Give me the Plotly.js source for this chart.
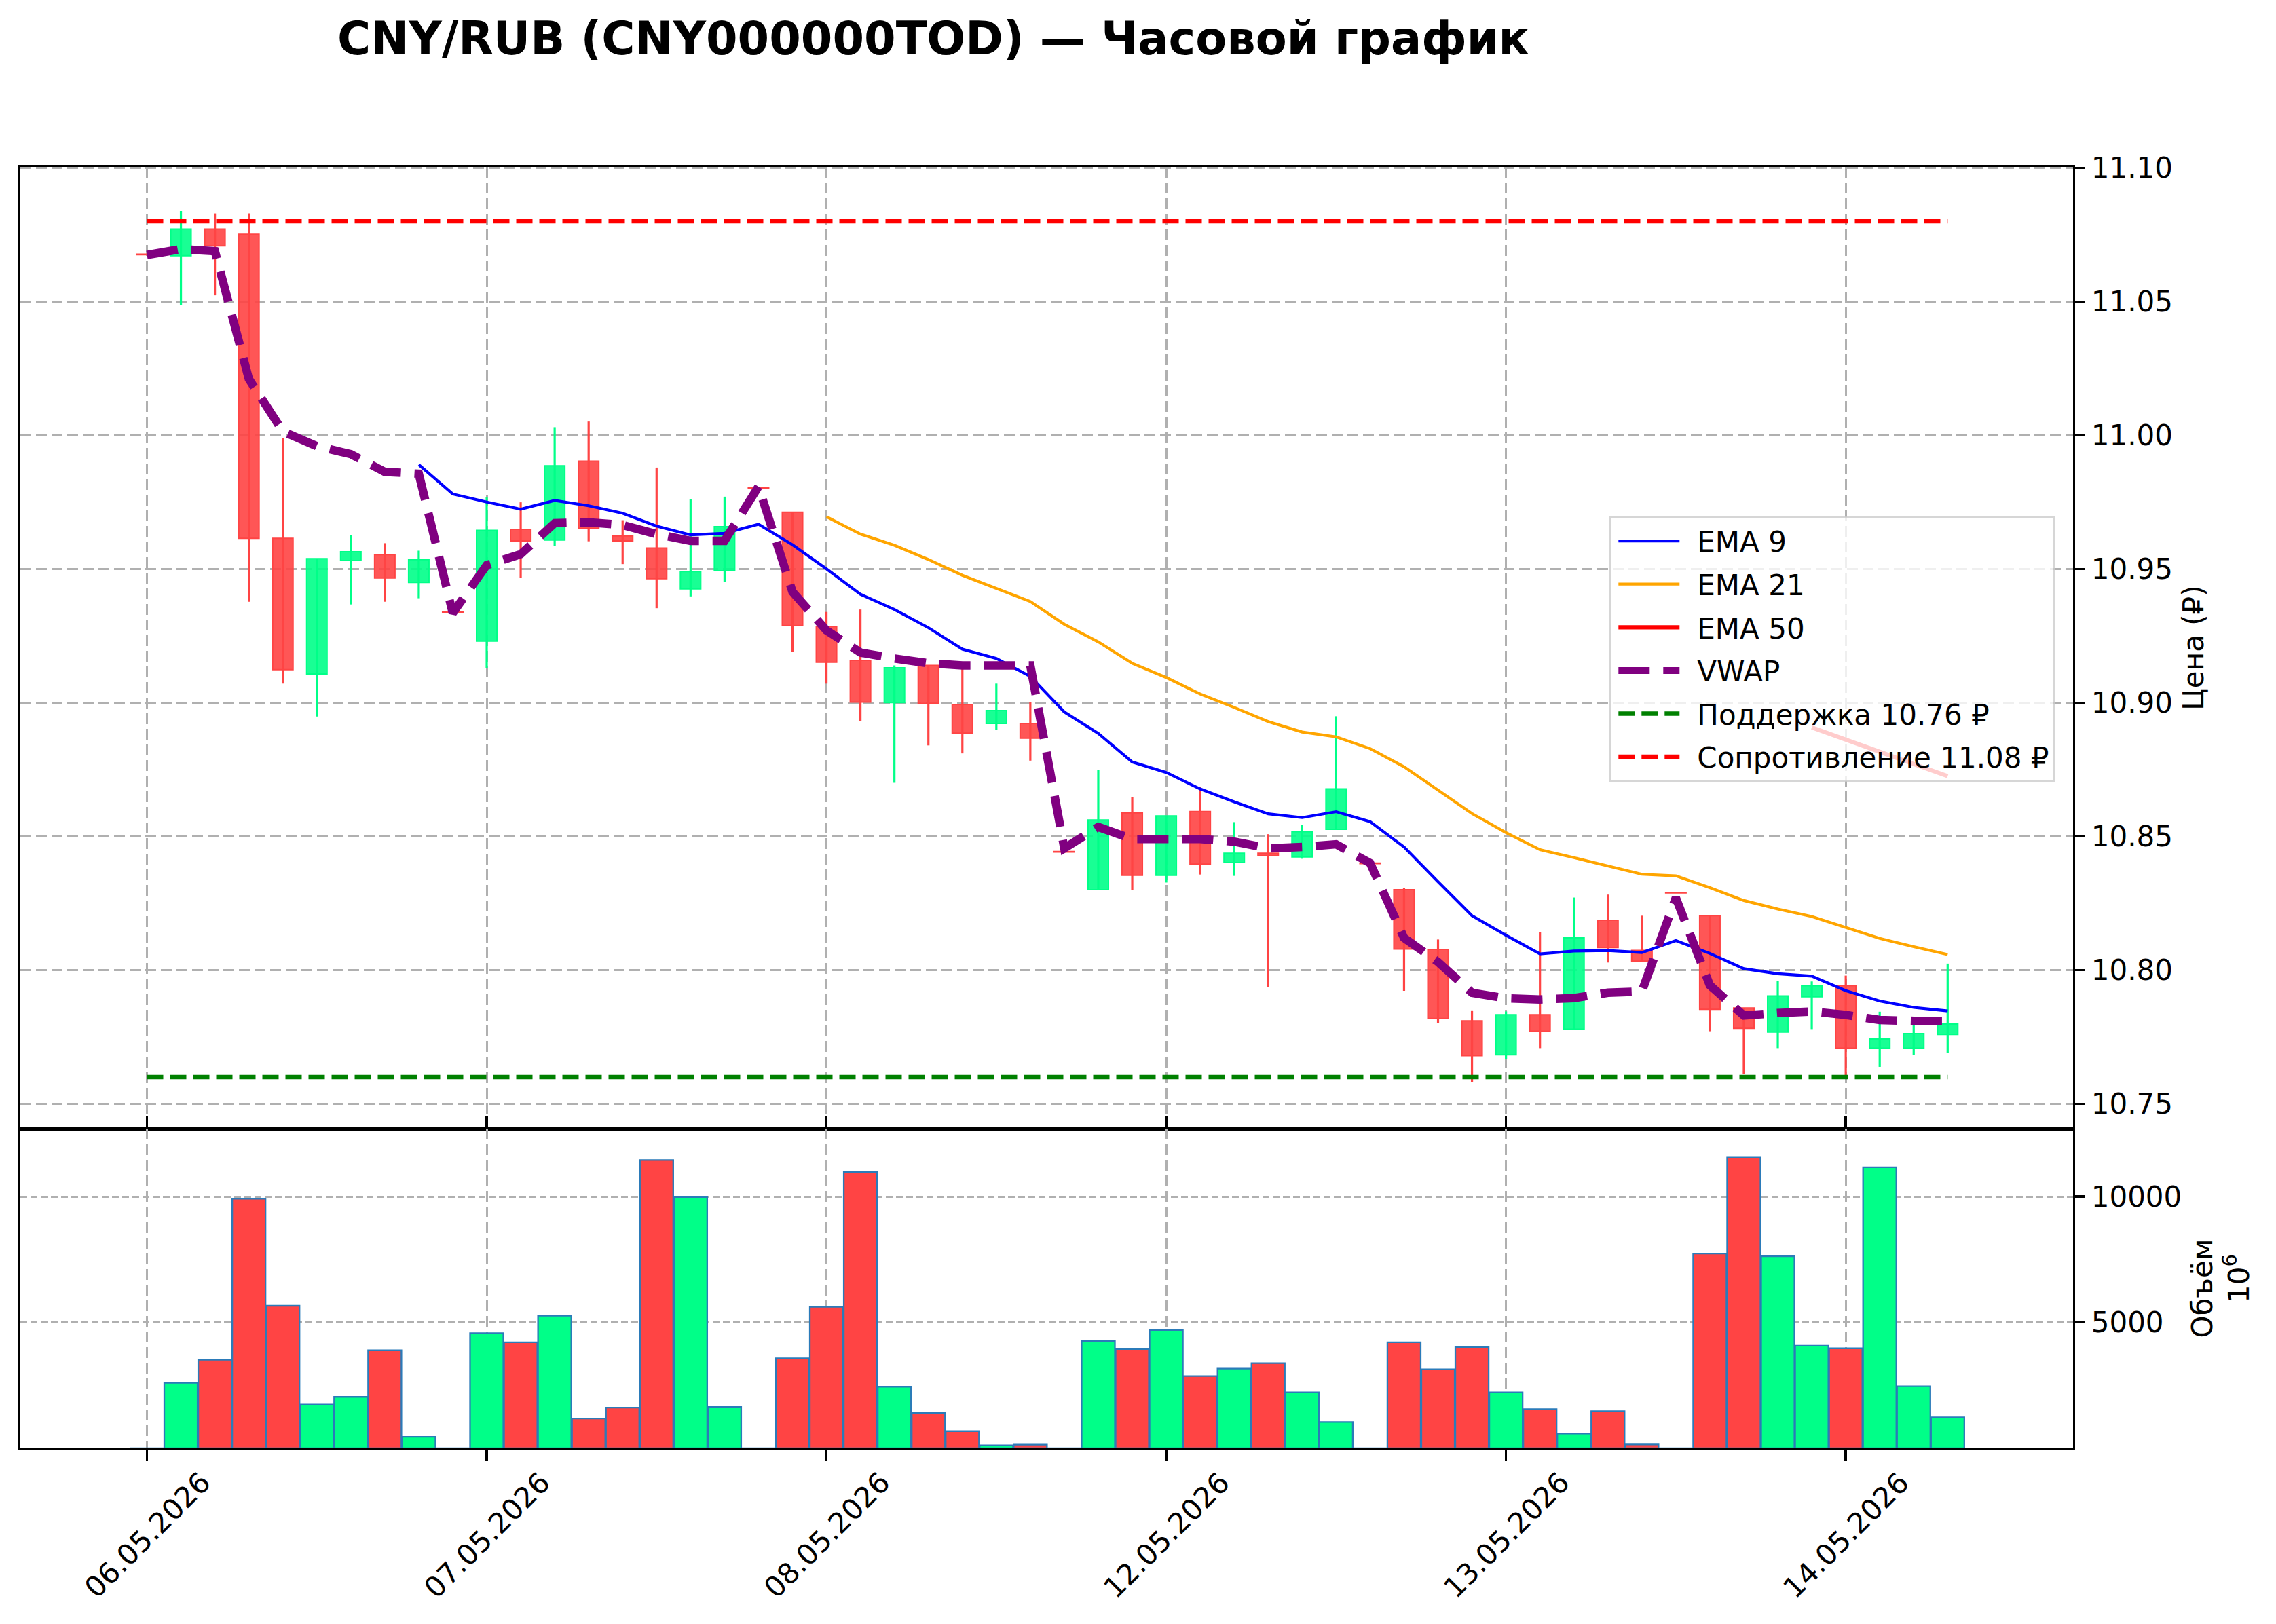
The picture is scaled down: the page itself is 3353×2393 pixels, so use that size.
<!DOCTYPE html>
<html><head><meta charset="utf-8">
<script src="https://cdn.plot.ly/plotly-3.0.1.min.js"></script>
<style>html,body{margin:0;padding:0;background:#fff;} #chart{width:3353px;height:2393px;}</style>
</head><body><div id="chart"></div>
<script>
// ---------- DATA ----------
const candleIdx = [0,1,2,3,4,5,6,7,8,9,10,11,12,13,14,15,16,17,18,19,20,21,22,23,24,25,26,27,28,29,30,31,32,33,34,35,36,37,38,39,40,41,42,43,44,45,46,47,48,49,50,51,52,53];
const openP  = [11.0675,11.0671,11.0771,11.0751,10.9614,10.9107,10.9531,10.9553,10.9449,10.9336,10.9230,10.9648,10.9608,10.9903,10.9623,10.9578,10.9425,10.9493,10.9801,10.9712,10.9284,10.9158,10.9000,10.9139,10.8993,10.8922,10.8922,10.8441,10.8300,10.8588,10.8354,10.8593,10.8402,10.8437,10.8423,10.8526,10.8398,10.8300,10.8077,10.7810,10.7683,10.7833,10.7779,10.8186,10.8073,10.8288,10.8203,10.7858,10.7768,10.7900,10.7941,10.7708,10.7708,10.7759];
const highP  = [11.0675,11.0838,11.0829,11.0829,10.9989,10.9538,10.9626,10.9596,10.9568,10.9336,10.9767,10.9749,11.0030,11.0051,10.9682,10.9879,10.9760,10.9770,10.9801,10.9712,10.9339,10.9348,10.9139,10.9139,10.9135,10.9071,10.9002,10.8441,10.8748,10.8647,10.8576,10.8686,10.8553,10.8508,10.8544,10.8949,10.8398,10.8307,10.8114,10.7849,10.7845,10.8141,10.8271,10.8282,10.8203,10.8288,10.8203,10.7858,10.7960,10.7957,10.7979,10.7844,10.7824,10.8024];
const lowP   = [11.0675,11.0486,11.0523,10.9377,10.9071,10.8948,10.9367,10.9377,10.9390,10.9336,10.9130,10.9466,10.9586,10.9603,10.9518,10.9353,10.9397,10.9452,10.9801,10.9189,10.9071,10.8931,10.8700,10.8840,10.8810,10.8899,10.8783,10.8441,10.8300,10.8300,10.8327,10.8357,10.8352,10.7936,10.8416,10.8526,10.8398,10.7922,10.7801,10.7581,10.7666,10.7708,10.7779,10.8028,10.8033,10.8288,10.7771,10.7610,10.7708,10.7779,10.7598,10.7638,10.7683,10.7691];
const closeP = [11.0675,11.0771,11.0708,10.9614,10.9123,10.9538,10.9564,10.9466,10.9534,10.9336,10.9644,10.9605,10.9886,10.9651,10.9605,10.9463,10.9490,10.9658,10.9801,10.9288,10.9151,10.9002,10.9130,10.8997,10.8886,10.8970,10.8867,10.8441,10.8561,10.8354,10.8576,10.8396,10.8437,10.8428,10.8517,10.8677,10.8398,10.8078,10.7819,10.7680,10.7833,10.7771,10.8120,10.8084,10.8033,10.8288,10.7853,10.7782,10.7903,10.7941,10.7708,10.7742,10.7762,10.7798];
const volume = [0,2599,3513,9911,5663,1738,2043,3889,457,0,4570,4211,5269,1183,1613,11452,9973,1640,0,3575,5618,10968,2446,1398,681,116,143,0,4265,3943,4695,2867,3163,3378,2222,1039,0,4211,3136,4023,2222,1550,582,1470,152,0,7733,11550,7625,4077,3970,11165,2464,1228];
const ema9  = [null,null,null,null,null,null,null,null,10.9890,10.9780,10.9750,10.9723,10.9756,10.9736,10.9708,10.9660,10.9627,10.9633,10.9667,10.9590,10.9500,10.9405,10.9348,10.9280,10.9200,10.9165,10.9098,10.8965,10.8885,10.8778,10.8739,10.8677,10.8629,10.8584,10.8570,10.8592,10.8555,10.8460,10.8330,10.8203,10.8130,10.8060,10.8071,10.8073,10.8065,10.8110,10.8062,10.8005,10.7986,10.7977,10.7923,10.7884,10.7860,10.7847];
const ema21 = [null,null,null,null,null,null,null,null,null,null,null,null,null,null,null,null,null,null,null,null,10.9695,10.9630,10.9588,10.9535,10.9476,10.9428,10.9378,10.9293,10.9227,10.9147,10.9094,10.9032,10.8982,10.8929,10.8890,10.8872,10.8828,10.8760,10.8672,10.8585,10.8514,10.8450,10.8420,10.8390,10.8358,10.8352,10.8308,10.8260,10.8228,10.8200,10.8158,10.8118,10.8087,10.8058];
const ema50 = [null,null,null,null,null,null,null,null,null,null,null,null,null,null,null,null,null,null,null,null,null,null,null,null,null,null,null,null,null,null,null,null,null,null,null,null,null,null,null,null,null,null,null,null,null,null,null,null,null,10.8907,10.8862,10.8816,10.8771,10.8725];
const vwap  = [11.0674,11.0696,11.0688,11.0210,11.0014,10.9959,10.9929,10.9863,10.9856,10.9335,10.9514,10.9555,10.9671,10.9674,10.9664,10.9630,10.9605,10.9605,10.9808,10.9414,10.9270,10.9187,10.9165,10.9147,10.9139,10.9139,10.9139,10.8455,10.8535,10.8490,10.8490,10.8490,10.8480,10.8455,10.8460,10.8470,10.8400,10.8120,10.8030,10.7915,10.7894,10.7890,10.7895,10.7915,10.7920,10.8270,10.7943,10.7830,10.7839,10.7845,10.7832,10.7813,10.7810,10.7810];
const supportLevel = 10.76;
const resistanceLevel = 11.08;
const dateTickPos = [0,10,20,30,40,50];
const dateTickLabels = ['06.05.2026','07.05.2026','08.05.2026','12.05.2026','13.05.2026','14.05.2026'];
const priceTicks = [10.75,10.80,10.85,10.90,10.95,11.00,11.05,11.10];
const volumeTicks = [5000,10000];

// ---------- STYLE ----------
const RED = '#ff4444', GREEN = '#00ff88';
const RED_F = 'rgba(255,68,68,0.9)', GREEN_F = 'rgba(0,255,136,0.9)';
const FONT = 'DejaVu Sans, Verdana, sans-serif';
const GAP = '\u2002'; // spacing between legend sample and label
const isUp = closeP.map((c,i)=> c > openP[i]);

function wicks(up){
  const x=[], y=[];
  candleIdx.forEach(i=>{ if(isUp[i]===up && highP[i]>lowP[i]){ x.push(i,i,null); y.push(lowP[i],highP[i],null);} });
  return {x,y};
}
const wUp = wicks(true), wDn = wicks(false);

const traces = [];
traces.push({type:'scatter', mode:'lines', x:wDn.x, y:wDn.y, line:{color:RED, width:3.2}, showlegend:false, hoverinfo:'skip', xaxis:'x', yaxis:'y'});
traces.push({type:'scatter', mode:'lines', x:wUp.x, y:wUp.y, line:{color:GREEN, width:3.2}, showlegend:false, hoverinfo:'skip', xaxis:'x', yaxis:'y'});
traces.push({type:'bar', x:candleIdx,
  base: candleIdx.map(i=>Math.min(openP[i],closeP[i])),
  y: candleIdx.map(i=>Math.max(Math.abs(closeP[i]-openP[i]),0.0002)),
  width:0.6, marker:{color:candleIdx.map(i=>isUp[i]?GREEN_F:RED_F), line:{color:candleIdx.map(i=>isUp[i]?GREEN:RED), width:2}},
  showlegend:false, hoverinfo:'skip', xaxis:'x', yaxis:'y'});
traces.push({type:'bar', x:candleIdx, y:volume, width:0.98,
  marker:{color:candleIdx.map(i=>isUp[i]?GREEN:RED), line:{color:'#2b7bb9', width:2.3}},
  showlegend:false, hoverinfo:'skip', xaxis:'x', yaxis:'y2'});
traces.push({type:'scatter', mode:'lines', name:GAP+'EMA 9', x:candleIdx, y:ema9, line:{color:'#0000ff', width:4.2}, legendgroup:'g1', xaxis:'x', yaxis:'y'});
traces.push({type:'scatter', mode:'lines', name:GAP+'EMA 21', x:candleIdx, y:ema21, line:{color:'#ffa500', width:4.2}, legendgroup:'g2', xaxis:'x', yaxis:'y'});
traces.push({type:'scatter', mode:'lines', name:GAP+'EMA 50', x:candleIdx, y:ema50, line:{color:'#ff0000', width:6.2}, legendgroup:'g3', xaxis:'x', yaxis:'y'});
traces.push({type:'scatter', mode:'lines', name:GAP+'VWAP', x:candleIdx, y:vwap, line:{color:'#800080', width:12.5, dash:'46px,20px'}, legendgroup:'g4', xaxis:'x', yaxis:'y'});
const lineX = [candleIdx[0], candleIdx[candleIdx.length-1]];
traces.push({type:'scatter', mode:'lines', name:GAP+'Поддержка ' + supportLevel.toFixed(2) + ' ₽', x:lineX, y:[supportLevel,supportLevel], line:{color:'#008000', width:6.5, dash:'24px,10px'}, legendgroup:'g5', xaxis:'x', yaxis:'y'});
traces.push({type:'scatter', mode:'lines', name:GAP+'Сопротивление ' + resistanceLevel.toFixed(2) + ' ₽', x:lineX, y:[resistanceLevel,resistanceLevel], line:{color:'#ff0000', width:6.5, dash:'24px,10px'}, legendgroup:'g6', xaxis:'x', yaxis:'y'});

// ---------- LAYOUT ----------
const W=3353, H=2393, L=30, R=3054, T=246, B=2134, SPLIT=1663;
const pw = R-L, ph = B-T;
const splitFrac = (B-SPLIT)/ph;
const annotations = dateTickPos.map((p,k)=>({x:p, xref:'x', y:-(2262-B)/ph, yref:'paper', text:dateTickLabels[k], textangle:-45, showarrow:false, xanchor:'center', yanchor:'middle', font:{family:FONT, size:42, color:'#000'}}));
annotations.push({x:(3295-L)/pw, xref:'paper', y:(B-1884)/ph, yref:'paper', text:'10<sup>6</sup>', textangle:-90, showarrow:false, xanchor:'center', yanchor:'middle', font:{family:FONT, size:42, color:'#000'}});

const axisCommon = {showline:true, linecolor:'#000', linewidth:3.3, ticks:'outside', tickcolor:'#000', tickwidth:3.3, zeroline:false, tickfont:{family:FONT, size:42, color:'#000'}};

const layout = {
  width:W, height:H, margin:{l:L, r:W-R, t:T, b:H-B, pad:0},
  paper_bgcolor:'#fff', plot_bgcolor:'#fff', barmode:'overlay',
  font:{family:FONT, size:42, color:'#000'},
  title:{text:'<b>CNY/RUB (CNY000000TOD) — Часовой график</b>', font:{family:FONT, size:67, color:'#000'}, xref:'container', yref:'container', x:1375/W, xanchor:'center', y:1-57/H, yanchor:'middle'},
  showlegend:true,
  legend:{x:(2370-L)/pw, xanchor:'left', y:(B-760)/ph, yanchor:'top', bgcolor:'rgba(255,255,255,0.8)', bordercolor:'rgba(204,204,204,0.8)', borderwidth:3.3, font:{family:FONT, size:42, color:'#000'}, itemwidth:90, indentation:6, tracegroupgap:6, traceorder:'grouped'},
  xaxis:Object.assign({}, axisCommon, {anchor:'y2', range:[-3.726,56.69], tickmode:'array', tickvals:dateTickPos, showticklabels:false, ticklen:16, mirror:'all', showgrid:true, gridcolor:'#b0b0b0', gridwidth:3, griddash:'16px,7px'}),
  yaxis:Object.assign({}, axisCommon, {domain:[splitFrac,1], range:[10.7407,11.1003], side:'right', anchor:'x', tickmode:'array', tickvals:priceTicks, ticktext:priceTicks.map(v=>v.toFixed(2)), ticklen:15, mirror:true, showgrid:true, gridcolor:'#b0b0b0', gridwidth:3, griddash:'16px,7px', title:{text:'Цена (₽)', font:{family:FONT, size:42, color:'#000'}, standoff:17}, automargin:false}),
  yaxis2:Object.assign({}, axisCommon, {domain:[0,splitFrac], range:[0,12700], side:'right', anchor:'x', tickmode:'array', tickvals:volumeTicks, ticktext:volumeTicks.map(v=>String(v)), ticklen:15, mirror:true, showgrid:true, gridcolor:'#b0b0b0', gridwidth:3, griddash:'10px,5px', title:{text:'Объём', font:{family:FONT, size:42, color:'#000'}, standoff:17}, automargin:false}),
  annotations:annotations
};
Plotly.newPlot('chart', traces, layout, {displayModeBar:false, staticPlot:true});
</script></body></html>
